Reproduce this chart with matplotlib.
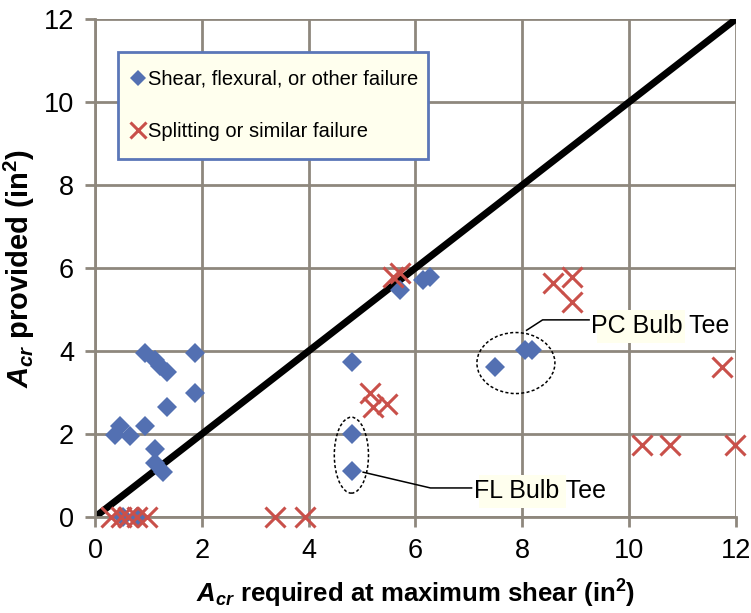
import matplotlib
matplotlib.use("Agg")
import matplotlib.pyplot as plt
from matplotlib.patches import Ellipse, Rectangle

plt.rcParams['font.family'] = ['Liberation Sans', 'DejaVu Sans']
plt.rcParams['mathtext.fontset'] = 'custom'
plt.rcParams['mathtext.rm'] = 'Liberation Sans:bold'
plt.rcParams['mathtext.bf'] = 'Liberation Sans:bold'
plt.rcParams['mathtext.it'] = 'Liberation Sans:bold:italic'

# Acr required (x) vs Acr provided (y), in^2
shear_x = [0.94, 1.12, 1.22, 1.35, 1.87, 1.87, 1.35, 0.47, 0.37, 0.66, 0.94,
           1.12, 1.12, 1.27, 0.52, 0.78,
           4.81, 4.81, 4.81, 5.71, 6.14, 6.27, 7.49, 8.05, 8.18]
shear_y = [3.95, 3.78, 3.64, 3.50, 3.95, 3.00, 2.65, 2.20, 1.98, 1.95, 2.20,
           1.64, 1.30, 1.08, 0.0, 0.0,
           3.73, 2.00, 1.11, 5.47, 5.71, 5.78, 3.61, 4.02, 4.02]

split_x = [0.30, 0.48, 0.62, 0.78, 0.98, 3.37, 3.93,
           5.58, 5.71, 5.15, 5.21, 5.47, 8.58, 8.93, 8.93,
           11.74, 10.24, 10.77, 11.98]
split_y = [0.0, 0.0, 0.0, 0.0, 0.0, 0.0, 0.0,
           5.78, 5.88, 2.99, 2.65, 2.72, 5.64, 5.78, 5.18,
           3.61, 1.73, 1.73, 1.73]

equality = [0, 12]
ticks = [0, 2, 4, 6, 8, 10, 12]

blue = '#5370B2'
red = '#C9504A'
grid_c = '#8E877D'
note_bg = '#FFFFEE'

fig = plt.figure(figsize=(7.51, 6.13), dpi=100)
ax = fig.add_axes([0.1265, 0.1566, 0.8535, 0.8124])

ax.set_xlim(0, 12)
ax.set_ylim(0, 12)
ax.set_xticks(ticks)
ax.set_yticks(ticks)
ax.grid(True, color=grid_c, linewidth=2.0, zorder=0)
ax.set_axisbelow(True)
for side in ['top', 'right']:
    ax.spines[side].set_visible(False)
for side in ['left', 'bottom']:
    ax.spines[side].set_color(grid_c)
    ax.spines[side].set_linewidth(2.0)
ax.tick_params(axis='both', colors=grid_c, width=2.0, length=7,
               labelsize=19.5, labelcolor='black', pad=8)

ax.plot(equality, equality, color='black', linewidth=5, zorder=2,
        solid_capstyle='butt')
ax.plot(shear_x, shear_y, linestyle='none', marker='D', markersize=10.5,
        color=blue, markeredgewidth=0, zorder=3, clip_on=False,
        label='Shear, flexural, or other failure')
ax.plot(split_x, split_y, linestyle='none', marker='x', markersize=15,
        markeredgewidth=2.2, color=red, zorder=4, clip_on=False,
        label='Splitting or similar failure')

# groupings
ax.add_patch(Ellipse((7.88, 3.71), 1.46, 1.47, fill=False, linestyle=(0, (2, 1.5)),
                     linewidth=1.1, edgecolor='black', zorder=5))
ax.add_patch(Ellipse((4.80, 1.49), 0.64, 1.83, fill=False, linestyle=(0, (2, 1.5)),
                     linewidth=1.1, edgecolor='black', zorder=5))

# PC Bulb Tee note
ax.add_patch(Rectangle((9.40, 4.2), 1.65, 0.80, facecolor=note_bg,
                       edgecolor='none', zorder=6))
ax.plot([8.08, 8.38, 9.25], [4.50, 4.75, 4.75], color='black', linewidth=1.1, zorder=6)
ax.text(9.28, 4.60, 'PC Bulb Tee', fontsize=18, va='center', ha='left', zorder=7)

# FL Bulb Tee note
ax.add_patch(Rectangle((7.18, 0.22), 1.63, 0.80, facecolor=note_bg,
                       edgecolor='none', zorder=6))
ax.plot([5.02, 6.28, 7.05], [1.08, 0.70, 0.70], color='black', linewidth=1.1, zorder=6)
ax.text(7.10, 0.62, 'FL Bulb Tee', fontsize=18, va='center', ha='left', zorder=7)

ax.set_xlabel(r'$A_{cr}$ required at maximum shear (in$^2$)', fontsize=18.5,
              fontweight='bold', labelpad=10)
ax.set_ylabel(r'$A_{cr}$ provided (in$^2$)', fontsize=21,
              fontweight='bold')
ax.yaxis.set_label_coords(-0.09, 0.5)

leg = ax.legend(loc='upper left', bbox_to_anchor=(0.036, 0.934, 0.484, 0.0),
                mode='expand', borderaxespad=0, fancybox=False, framealpha=1,
                facecolor=note_bg, edgecolor='#5B77B8', fontsize=14.5,
                handlelength=0.2, handletextpad=0.4, labelspacing=1.65,
                borderpad=0.9, markerscale=0.78)
leg.get_frame().set_linewidth(2.0)
leg.set_zorder(8)

fig.savefig('out.png', dpi=100)
